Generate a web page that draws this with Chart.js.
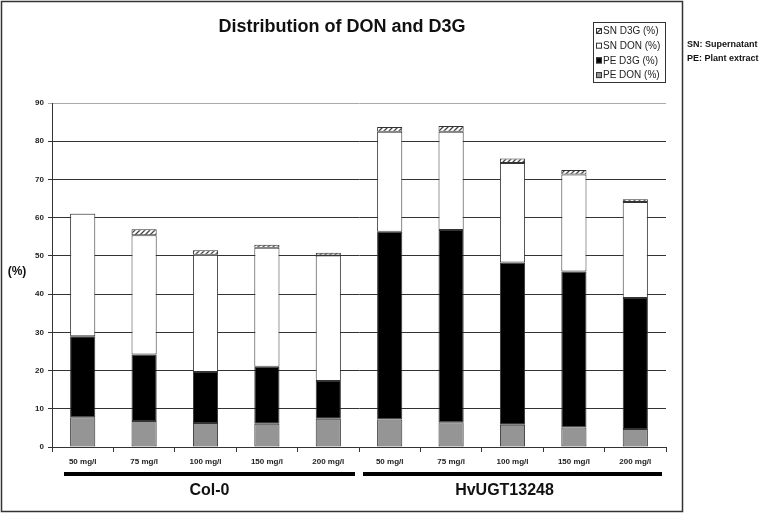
<!DOCTYPE html>
<html>
<head>
<meta charset="utf-8">
<script src="https://cdn.jsdelivr.net/npm/chart.js@4"></script>
<style>
    html, body { margin: 0; padding: 0; background: #fff; }
    #wrap { width: 760px; height: 514px; }
</style>
</head>
<body>
<div id="wrap"><canvas id="chart" width="760" height="514"></canvas></div>
<script>
const categories = ['50 mg/l', '75 mg/l', '100 mg/l', '150 mg/l', '200 mg/l',
                    '50 mg/l', '75 mg/l', '100 mg/l', '150 mg/l', '200 mg/l'];
const groups = ['Col-0', 'HvUGT13248'];
const groupSize = 5;

// stacked segments, bottom to top
const peDon = [7.8, 6.8, 6.3, 6.1, 7.4, 7.2, 6.5, 5.8, 5.1, 4.7];
const peD3g = [21.2, 17.4, 13.3, 14.9, 9.9, 49.1, 50.3, 42.5, 40.8, 34.3];
const snDon = [32.0, 31.2, 30.7, 31.1, 32.8, 26.2, 25.7, 26.0, 25.4, 25.1];
const snD3g = [0.1, 1.6, 1.2, 0.8, 0.7, 1.2, 1.5, 1.2, 1.2, 0.7];

const yTicks = [0, 10, 20, 30, 40, 50, 60, 70, 80, 90];
const notes = ['SN: Supernatant', 'PE: Plant extract'];

const FONT = '"Liberation Sans", Arial, sans-serif';
const EDGE = '#333';

function hatch() {
    const c = document.createElement('canvas');
    c.width = 5;
    c.height = 5;
    const g = c.getContext('2d');
    g.fillStyle = '#fff';
    g.fillRect(0, 0, 5, 5);
    g.strokeStyle = '#444';
    g.lineWidth = 1.3;
    g.beginPath();
    g.moveTo(-1, 6); g.lineTo(6, -1);
    g.moveTo(-1, 1); g.lineTo(1, -1);
    g.moveTo(4, 6); g.lineTo(6, 4);
    g.stroke();
    return g.createPattern(c, 'repeat');
}

const hatchFill = hatch();

const decor = {
    id: 'decor',
    afterDraw(chart) {
        const ctx = chart.ctx;
        const x = chart.scales.x;
        const w = x.width / categories.length;
        ctx.save();

        // outer frame
        ctx.strokeStyle = EDGE;
        ctx.lineWidth = 1.5;
        ctx.strokeRect(1.5, 1.5, 681, 510);

        // title
        ctx.fillStyle = '#111';
        ctx.font = 'bold 18px ' + FONT;
        ctx.textAlign = 'center';
        ctx.textBaseline = 'middle';
        ctx.fillText('Distribution of DON and D3G', 342, 27);

        // y title
        ctx.font = 'bold 12px ' + FONT;
        ctx.fillText('(%)', 17, 272);

        // group bars and names
        groups.forEach((name, i) => {
            const first = i * groupSize;
            const last = first + groupSize - 1;
            const left = x.getPixelForValue(first) - w / 2 + (i === 0 ? 12 : 4);
            const right = x.getPixelForValue(last) + w / 2 - 4;
            ctx.fillStyle = '#000';
            ctx.fillRect(left, 472, right - left, 4);
            ctx.font = 'bold 16px ' + FONT;
            ctx.fillStyle = '#111';
            const cx = i === 0 ? (left + right) / 2 : (left + right) / 2 - 8;
            ctx.fillText(name, cx, 491);
        });

        // legend box
        const lx = 593, ly = 22;
        ctx.strokeStyle = EDGE;
        ctx.lineWidth = 1;
        ctx.strokeRect(lx + 0.5, ly + 0.5, 72, 60);
        ctx.font = '10px ' + FONT;
        ctx.textAlign = 'left';
        const ds = chart.data.datasets.slice().reverse();
        ds.forEach((d, i) => {
            const cy = ly + 9 + i * 14.7;
            ctx.fillStyle = d.backgroundColor;
            ctx.fillRect(lx + 3, cy - 3, 6, 6);
            ctx.strokeStyle = EDGE;
            ctx.strokeRect(lx + 3.5, cy - 2.5, 5, 5);
            ctx.fillStyle = '#222';
            ctx.fillText(d.label, lx + 10, cy + 0.5);
        });

        // notes on the right
        ctx.font = 'bold 9px ' + FONT;
        ctx.fillStyle = '#111';
        notes.forEach((t, i) => ctx.fillText(t, 687, 45 + i * 14));

        ctx.restore();
    }
};

const barStyle = {
    borderColor: EDGE,
    borderWidth: 1,
    borderSkipped: false,
    barPercentage: 0.41,
    categoryPercentage: 1
};

new Chart(document.getElementById('chart'), {
    type: 'bar',
    data: {
        labels: categories,
        datasets: [
            { label: 'PE DON (%)', data: peDon, backgroundColor: '#959595', ...barStyle },
            { label: 'PE D3G (%)', data: peD3g, backgroundColor: '#000', ...barStyle },
            { label: 'SN DON (%)', data: snDon, backgroundColor: '#fff', ...barStyle },
            { label: 'SN D3G (%)', data: snD3g, backgroundColor: hatchFill, ...barStyle }
        ]
    },
    options: {
        responsive: false,
        animation: false,
        layout: { padding: { left: 0, top: 103, right: 94, bottom: 0 } },
        plugins: {
            legend: { display: false },
            title: { display: false },
            tooltip: { enabled: false }
        },
        scales: {
            x: {
                stacked: true,
                afterFit: s => { s.height = 67; },
                grid: { offset: true, drawOnChartArea: false, drawTicks: true, tickLength: 5, color: EDGE },
                border: { color: EDGE, width: 1 },
                ticks: {
                    padding: 5,
                    color: '#222',
                    font: { family: FONT, size: 8, weight: 'bold' }
                }
            },
            y: {
                stacked: true,
                min: 0,
                max: 90,
                afterFit: s => { s.width = 52; },
                afterBuildTicks: s => { s.ticks = yTicks.map(v => ({ value: v })); },
                grid: {
                    color: c => (c.tick && c.tick.value === 90 ? '#aaa' : '#333'),
                    tickLength: 4,
                    lineWidth: 1
                },
                border: { color: EDGE, width: 1 },
                ticks: {
                    padding: 4,
                    color: '#222',
                    font: { family: FONT, size: 8, weight: 'bold' }
                }
            }
        }
    },
    plugins: [decor]
});
</script>
</body>
</html>
